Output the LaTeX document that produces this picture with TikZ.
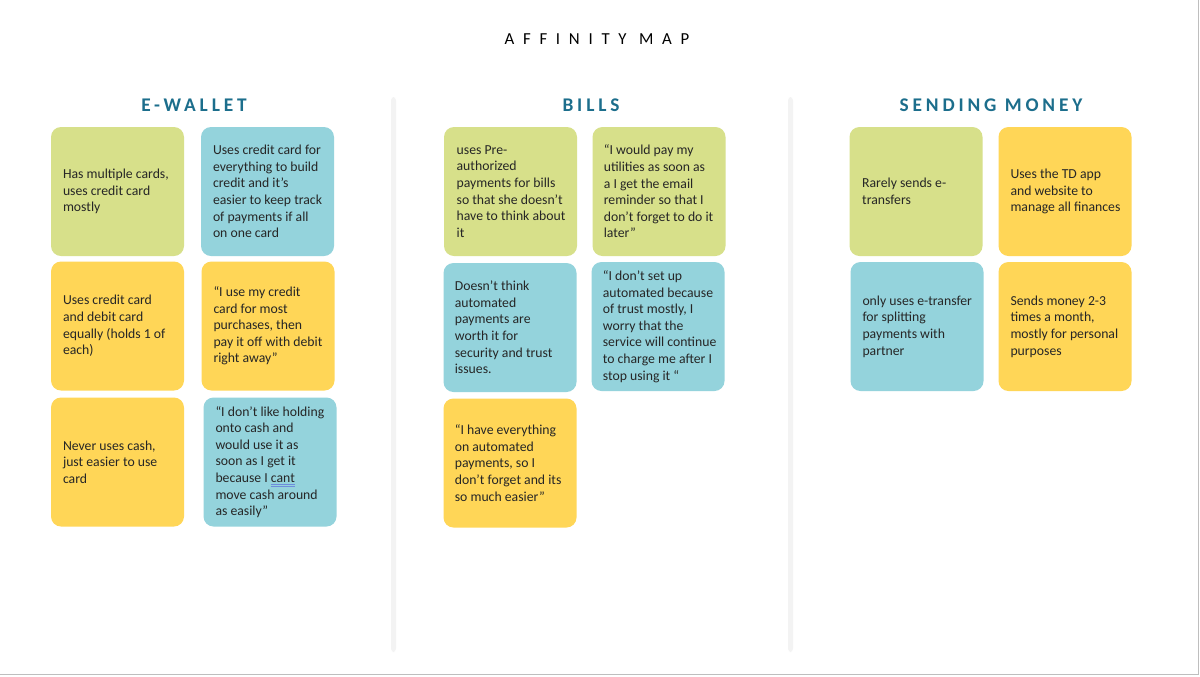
\documentclass[tikz,border=0pt]{standalone}
\usepackage{fontspec}
\setmainfont{Carlito}
\usepackage{tikz}

\definecolor{notegreen}{RGB}{215,224,138}
\definecolor{noteblue}{RGB}{148,211,220}
\definecolor{noteyellow}{RGB}{255,214,87}
\definecolor{headteal}{RGB}{28,110,140}
\definecolor{sepgray}{RGB}{243,243,243}
\definecolor{framegray}{RGB}{190,190,190}
\definecolor{spellblue}{RGB}{110,140,220}

\newsavebox\spellbox
\newcommand{\spellmark}[1]{\sbox\spellbox{#1}{\color{spellblue}\rlap{\rule[-1.8pt]{\wd\spellbox}{0.4pt}}\rlap{\rule[-2.8pt]{\wd\spellbox}{0.4pt}}}#1}

\begin{document}
\begin{tikzpicture}[
  x=0.75pt,
  y=-0.75pt, % <-- pixel grid, y runs down
  every node/.style={font=\fontsize{10.3}{12.45}\selectfont},
  note/.style={rounded corners=7.5pt, minimum width=99.75pt, minimum height=96.75pt, inner sep=0pt},
  notetext/.style={anchor=west, align=left, inner sep=0pt, text=black!85},
  header/.style={text=headteal, font=\fontsize{14.5}{17}\selectfont\bfseries\addfontfeatures{LetterSpace=20}}
]

\useasboundingbox (0,0) rectangle (1200,676);
\fill[white] (0,0) rectangle (1200,676);
\draw[framegray, line width=0.9pt] (0,674.5) -- (1198.5,674.5) -- (1198.5,0);

% Title
\node[font=\fontsize{12.6}{15}\selectfont\addfontfeatures{LetterSpace=52}, text=black] (title) at (597,39) {AFFINITY MAP};

% Column separators
\fill[sepgray, rounded corners=2.5] (391,97) rectangle (396,652);
\fill[sepgray, rounded corners=2.5] (788,97) rectangle (793,652);

% Column headers
\node[header] (hwallet) at (194,105) {E-WALLET};
\node[header] (hbills) at (591,105) {BILLS};
\node[header] (hsend) at (991,105) {SENDING MONEY};

% --- Column 1: E-Wallet ---
\node[note, fill=notegreen] (w1) at (117.5,191.5) {};
\node[notetext] (w1t) at ([xshift=9pt]w1.west) {Has multiple cards,\\ uses credit card\\ mostly};
\node[note, fill=noteblue] (w2) at (267.5,191.5) {};
\node[notetext] (w2t) at ([xshift=9pt]w2.west) {Uses credit card for\\ everything to build\\ credit and it’s\\ easier to keep track\\ of payments if all\\ on one card};
\node[note, fill=noteyellow] (w3) at (117.5,326) {};
\node[notetext] (w3t) at ([xshift=9pt]w3.west) {Uses credit card\\ and debit card\\ equally (holds 1 of\\ each)};
\node[note, fill=noteyellow] (w4) at (268,326) {};
\node[notetext] (w4t) at ([xshift=9pt]w4.west) {“I use my credit\\ card for most\\ purchases, then\\ pay it off with debit\\ right away”};
\node[note, fill=noteyellow] (w5) at (117.5,462) {};
\node[notetext] (w5t) at ([xshift=9pt]w5.west) {Never uses cash,\\ just easier to use\\ card};
\node[note, fill=noteblue] (w6) at (270,462) {};
\node[notetext] (w6t) at ([xshift=9pt]w6.west) {“I don’t like holding\\ onto cash and\\ would use it as\\ soon as I get it\\ because I \spellmark{cant}\\ move cash around\\ as easily”};

% --- Column 2: Bills ---
\node[note, fill=notegreen] (b1) at (510.5,191.5) {};
\node[notetext] (b1t) at ([xshift=9.5pt]b1.west) {uses Pre-\\ authorized\\ payments for bills\\ so that she doesn't\\ have to think about\\ it};
\node[note, fill=notegreen] (b2) at (659,191.5) {};
\node[notetext] (b2t) at ([xshift=8.5pt]b2.west) {“I would pay my\\ utilities as soon as\\ a I get the email\\ reminder so that I\\ don’t forget to do it\\ later”};
\node[note, fill=noteblue] (b3) at (510,327.5) {};
\node[notetext] (b3t) at ([xshift=8.5pt]b3.west) {Doesn’t think\\ automated\\ payments are\\ worth it for\\ security and trust\\ issues.};
\node[note, fill=noteblue] (b4) at (658,326.5) {};
\node[notetext] (b4t) at ([xshift=8.5pt]b4.west) {“I don't set up\\ automated because\\ of trust mostly, I\\ worry that the\\ service will continue\\ to charge me after I\\ stop using it “};
\node[note, fill=noteyellow] (b5) at (510,463) {};
\node[notetext] (b5t) at ([xshift=8.5pt]b5.west) {“I have everything\\ on automated\\ payments, so I\\ don’t forget and its\\ so much easier”};

% --- Column 3: Sending money ---
\node[note, fill=notegreen] (s1) at (916,191.5) {};
\node[notetext] (s1t) at ([xshift=9.5pt]s1.west) {Rarely sends e-\\ transfers};
\node[note, fill=noteyellow] (s2) at (1065,191.5) {};
\node[notetext] (s2t) at ([xshift=9pt]s2.west) {Uses the TD app\\ and website to\\ manage all finances};
\node[note, fill=noteblue] (s3) at (917,326.5) {};
\node[notetext] (s3t) at ([xshift=9pt]s3.west) {only uses e-transfer\\ for splitting\\ payments with\\ partner};
\node[note, fill=noteyellow] (s4) at (1065,326.5) {};
\node[notetext] (s4t) at ([xshift=9pt]s4.west) {Sends money 2-3\\ times a month,\\ mostly for personal\\ purposes};

\end{tikzpicture}
\end{document}
